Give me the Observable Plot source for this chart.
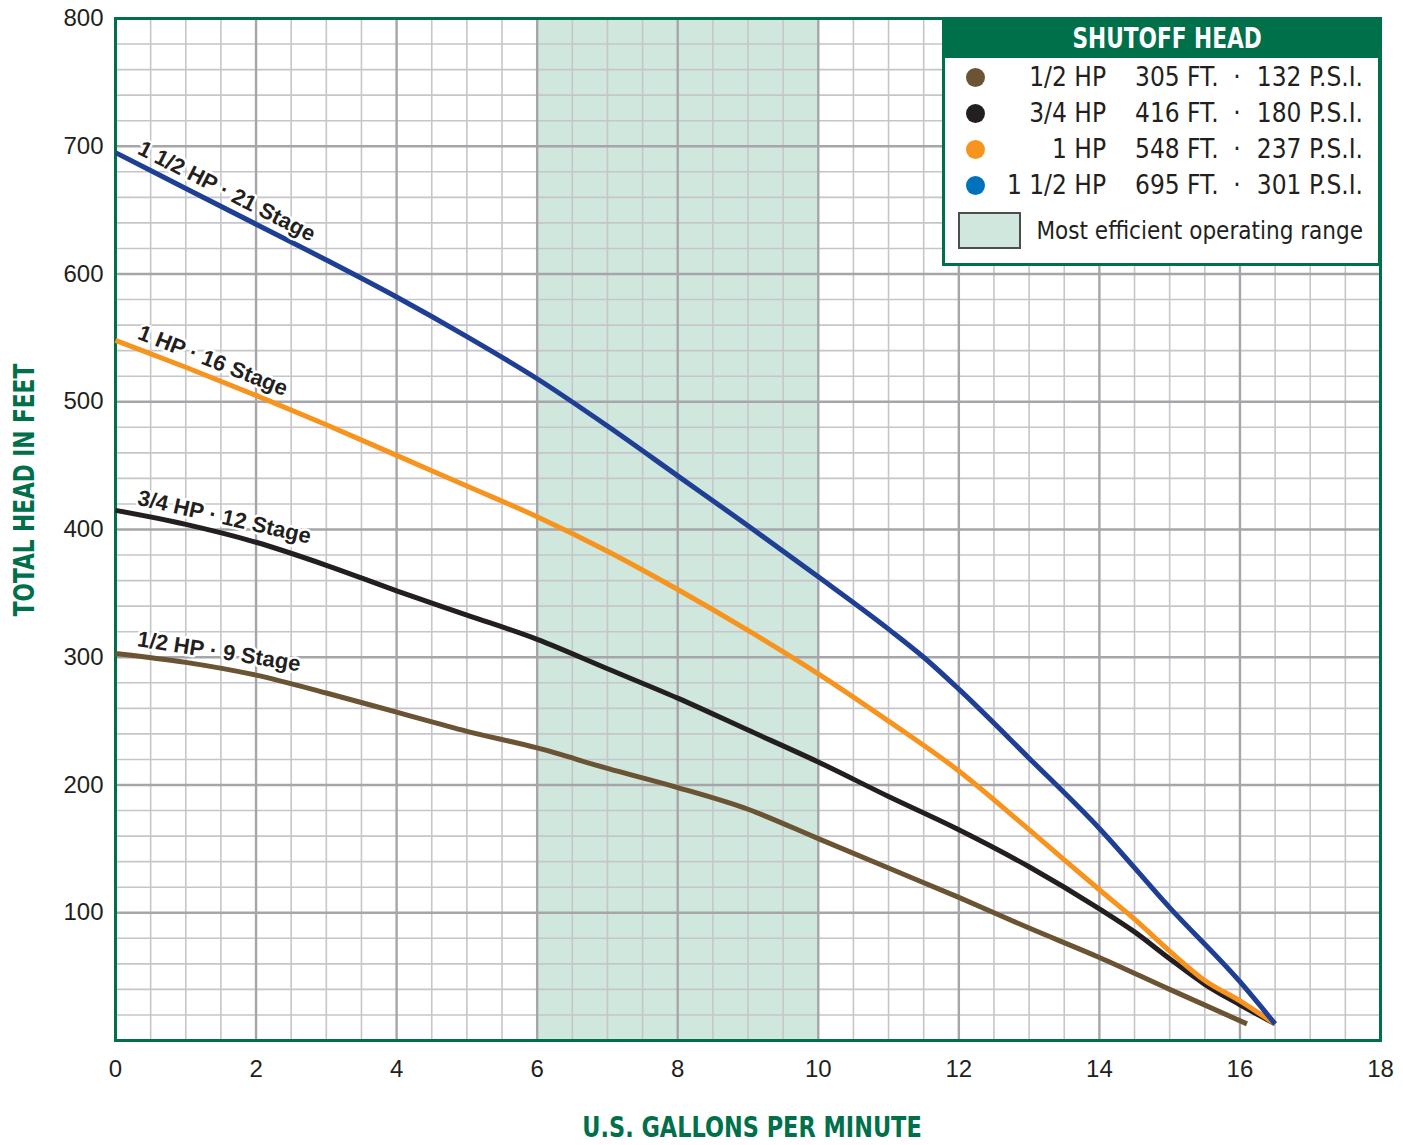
<!DOCTYPE html>
<html><head><meta charset="utf-8">
<script src="https://cdn.jsdelivr.net/npm/d3@7"></script>
<script src="https://cdn.jsdelivr.net/npm/@observablehq/plot@0.6"></script>
<style>
html,body{margin:0;padding:0;background:#fff;}
#wrap{position:relative;width:1403px;height:1145px;overflow:hidden;}
.narrow{font-family:"DejaVu Sans Condensed","Liberation Sans Narrow","Roboto Condensed",sans-serif;font-stretch:condensed;}
.ttl{position:absolute;color:#00704a;font-weight:bold;font-size:28px;white-space:nowrap;line-height:22px;}
.legend{position:absolute;left:942px;top:17px;width:439px;height:249px;box-sizing:border-box;border:3px solid #00704a;background:#fff;color:#231f20;}
.legend .hdr{position:absolute;left:0;top:0;right:0;height:38px;background:#00704a;color:#fff;font-weight:bold;font-size:28px;line-height:38px;text-align:center;}
.legend .hdr b{display:inline-block;transform:translateX(6px) scaleX(0.86);font-weight:bold;}
.legend span{position:absolute;white-space:nowrap;line-height:36px;height:36px;}
.legend .dot{width:19px;height:19px;border-radius:50%;}
.legend .sw{position:absolute;background:#cfe7dc;border:2px solid #4d4d4d;box-sizing:border-box;}
</style></head>
<body><div id="wrap"></div>
<script>
// ---- data ----
const hpNames = ["1/2 HP", "3/4 HP", "1 HP", "1 1/2 HP"];
const stages = [9, 12, 16, 21];
const shutoffFt = [305, 416, 548, 695];
const shutoffPsi = [132, 180, 237, 301];
const lineColors = ["#6b5433", "#231f20", "#f7941d", "#1e3f94"];
const dotColors = ["#6b5433", "#231f20", "#f7941d", "#0072bc"];

const gpm05  = [0, 1, 2, 3, 4, 5, 6, 7, 8, 9, 10, 11, 12, 13, 14, 15, 16.1];
const head05 = [303, 296, 286, 272, 257, 242, 229, 213, 198, 181, 158, 135, 112, 88, 65, 40, 13];
const gpm075  = [0, 1, 2, 3, 4, 5, 6, 7, 8, 9, 10, 11, 12, 13, 14, 14.5, 15, 15.5, 16, 16.5];
const head075 = [415, 404, 390, 372, 352, 333, 314, 291, 268, 243, 218, 191, 165, 136, 103, 85, 64, 44, 28, 13];
const gpm10  = [0, 1, 2, 3, 4, 5, 6, 7, 8, 9, 10, 11, 12, 13, 14, 14.5, 15, 15.5, 16, 16.5];
const head10 = [548, 527, 505, 482, 458, 434, 410, 383, 353, 321, 287, 250, 211, 165, 118, 95, 70, 47, 31, 13];
const gpm15  = [0, 1, 2, 3, 4, 5, 6, 7, 8, 9, 10, 11, 11.5, 12, 13, 14, 15, 16, 16.5];
const head15 = [695, 667, 639, 611, 582, 551, 518, 481, 442, 403, 363, 322, 300, 275, 221, 166, 104, 46, 13];

const efficientRange = [6, 10];
const xDomain = [0, 18];
const yDomain = [0, 800];
const xTicks = [0, 2, 4, 6, 8, 10, 12, 14, 16, 18];
const yTicks = [100, 200, 300, 400, 500, 600, 700, 800];
const xTitle = "U.S. GALLONS PER MINUTE";
const yTitle = "TOTAL HEAD IN FEET";
const legendTitle = "SHUTOFF HEAD";
const rangeLabel = "Most efficient operating range";

// ---- build ----
const W = 1403, H = 1145, mL = 115, mR = 23, mT = 18, mB = 105;
const kx = (W - mL - mR) / (xDomain[1] - xDomain[0]);
const ky = (H - mT - mB) / (yDomain[1] - yDomain[0]);
const GREEN = "#00704a";

const gpms = [gpm05, gpm075, gpm10, gpm15];
const heads = [head05, head075, head10, head15];
const series = hpNames.map((hp, i) => ({hp, stage: stages[i], gpm: gpms[i], head: heads[i]}));
const lineData = series.flatMap(s => s.gpm.map((g, j) => ({hp: s.hp, gpm: g, head: s.head[j]})));

function headAt(s, g) {
  for (let j = 1; j < s.gpm.length; j++) {
    if (g <= s.gpm[j]) {
      const t = (g - s.gpm[j-1]) / (s.gpm[j] - s.gpm[j-1]);
      return s.head[j-1] + t * (s.head[j] - s.head[j-1]);
    }
  }
  return s.head[s.head.length - 1];
}
const labelStart = 0.3;
const labelData = series.map(s => {
  const slope = (s.head[2] - s.head[0]) / (s.gpm[2] - s.gpm[0]);
  return {
    gpm: labelStart,
    head: headAt(s, labelStart),
    text: `${s.hp} · ${s.stage} Stage`,
    angle: Math.atan(-slope * ky / kx) * 180 / Math.PI
  };
});

const xMinor = d3.range(0.5, 18, 0.5).filter(v => v % 2 !== 0);
const xMajor = xTicks.filter(v => v > 0 && v < 18);
const yMinor = d3.range(20, 800, 20).filter(v => v % 100 !== 0);
const yMajor = yTicks.filter(v => v < 800);

const chart = Plot.plot({
  width: W, height: H,
  marginLeft: mL, marginRight: mR, marginTop: mT, marginBottom: mB,
  style: {fontFamily: '"Liberation Sans", Arial, sans-serif', fontSize: "24px", color: "#231f20", background: "transparent"},
  x: {domain: xDomain},
  y: {domain: yDomain},
  color: {domain: hpNames, range: lineColors},
  marks: [
    Plot.rect([efficientRange], {x1: d => d[0], x2: d => d[1], fill: "#cfe7dc"}),
    Plot.ruleX(xMinor, {stroke: "#c6c6ca", strokeWidth: 1.6}),
    Plot.ruleY(yMinor, {stroke: "#c6c6ca", strokeWidth: 1.6}),
    Plot.ruleX(xMajor, {stroke: "#a6a6aa", strokeWidth: 2.4}),
    Plot.ruleY(yMajor, {stroke: "#a6a6aa", strokeWidth: 2.4}),
    Plot.frame({stroke: GREEN, strokeWidth: 3}),
    Plot.axisX(xTicks, {tickSize: 0, tickPadding: 19, label: null, fontSize: 24, fill: "#231f20"}),
    Plot.axisY(yTicks, {tickSize: 0, tickPadding: 12, label: null, fontSize: 24, fill: "#231f20"}),
    Plot.line(lineData, {x: "gpm", y: "head", z: "hp", stroke: "hp", strokeWidth: 5, curve: "monotone-x", strokeLinecap: "butt"}),
    Plot.text(labelData, {x: "gpm", y: "head", text: "text", rotate: "angle", textAnchor: "start", lineAnchor: "bottom", dy: -10,
      fontSize: 22, fontWeight: "bold", fill: "#231f20", stroke: "white", strokeWidth: 5})
  ]
});

const wrap = document.getElementById("wrap");
wrap.appendChild(chart);

// axis titles
const xt = document.createElement("div");
xt.className = "ttl narrow"; xt.textContent = xTitle;
xt.style.left = "752px"; xt.style.top = "1128px"; xt.style.transform = "translate(-50%,-50%) scaleX(0.89)";
wrap.appendChild(xt);
const yt = document.createElement("div");
yt.className = "ttl narrow"; yt.textContent = yTitle;
yt.style.left = "25px"; yt.style.top = "490px"; yt.style.transform = "translate(-50%,-50%) rotate(-90deg) scaleX(0.86)";
wrap.appendChild(yt);

// legend
const lg = document.createElement("div");
lg.className = "legend";
const hdr = document.createElement("div");
hdr.className = "hdr narrow";
const hb = document.createElement("b"); hb.textContent = legendTitle; hdr.appendChild(hb);
lg.appendChild(hdr);
const rowTop = [57, 93, 129, 165];
hpNames.forEach((hp, i) => {
  const top = rowTop[i] - 18;
  const dot = document.createElement("span");
  dot.className = "dot";
  dot.style.cssText = `left:${30 - 9.5}px;top:${rowTop[i] - 9.5}px;height:19px;background:${dotColors[i]}`;
  lg.appendChild(dot);
  const mk = (txt, css) => { const s = document.createElement("span"); s.className = "narrow"; s.textContent = txt; s.style.cssText = `top:${top}px;font-size:26px;` + css; lg.appendChild(s); };
  mk(hp, "left:0;width:161px;text-align:right;");
  mk(`${shutoffFt[i]} FT.`, "left:190px;");
  mk("·", "left:287px;width:10px;text-align:center;");
  mk(`${shutoffPsi[i]} P.S.I.`, "left:0;width:418px;text-align:right;");
});
const sw = document.createElement("div");
sw.className = "sw";
sw.style.cssText = "left:13px;top:192px;width:63px;height:37px;";
lg.appendChild(sw);
const rl = document.createElement("span");
rl.className = "narrow"; rl.textContent = rangeLabel;
rl.style.cssText = "left:0;width:418px;text-align:right;top:193px;font-size:24px;";
lg.appendChild(rl);
wrap.appendChild(lg);
</script>
</body></html>
